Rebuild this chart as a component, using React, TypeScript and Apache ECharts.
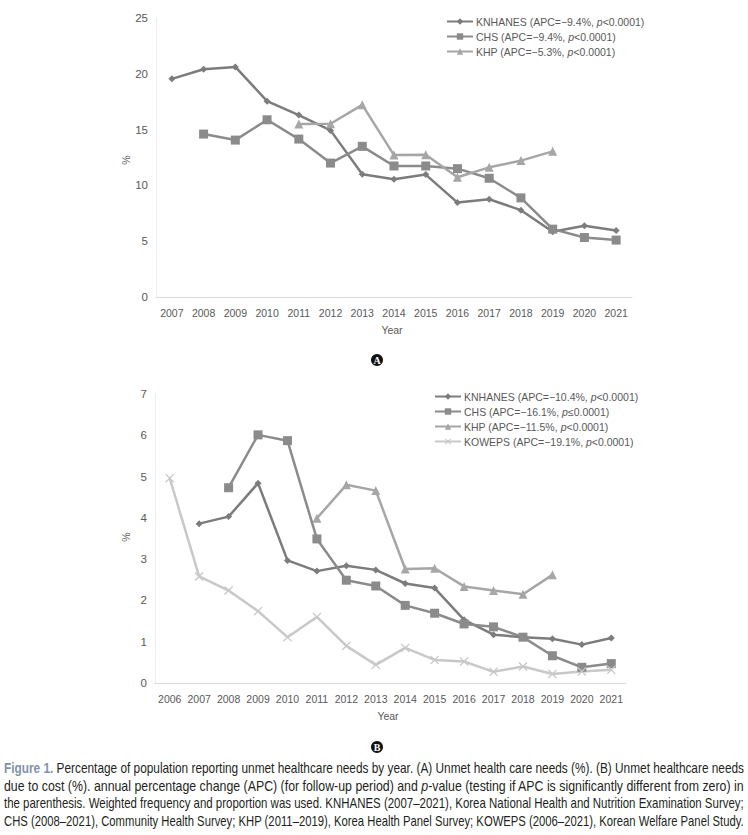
import React, { useEffect, useLayoutEffect, useRef, useState } from "react";
import * as echarts from "echarts";

const yearsA = ["2007","2008","2009","2010","2011","2012","2013","2014","2015","2016","2017","2018","2019","2020","2021"];
const knhanesA = [19.55,20.41,20.62,17.55,16.3,14.93,11.0,10.55,10.97,8.46,8.76,7.78,5.84,6.38,5.96];
const chsA = [null,14.6,14.06,15.88,14.15,12.0,13.5,11.74,11.74,11.5,10.64,8.88,6.08,5.33,5.1];
const khpA = [null,null,null,null,15.5,15.52,17.22,12.72,12.75,10.73,11.62,12.22,13.05,null,null];

const yearsB = ["2006","2007","2008","2009","2010","2011","2012","2013","2014","2015","2016","2017","2018","2019","2020","2021"];
const knhanesB = [null,3.86,4.03,4.84,2.97,2.71,2.84,2.74,2.41,2.3,1.53,1.17,1.11,1.07,0.93,1.09];
const chsB = [null,null,4.73,6.01,5.87,3.49,2.49,2.35,1.88,1.69,1.43,1.36,1.11,0.66,0.38,0.47];
const khpB = [null,null,null,null,null,3.99,4.8,4.66,2.76,2.78,2.34,2.24,2.15,2.62,null,null];
const kowepsB = [4.96,2.58,2.24,1.74,1.11,1.6,0.9,0.44,0.85,0.56,0.52,0.27,0.4,0.22,0.28,0.32];

const legendA = ["KNHANES (APC=−9.4%, p<0.0001)", "CHS (APC=−9.4%, p<0.0001)", "KHP (APC=−5.3%, p<0.0001)"];
const legendB = ["KNHANES (APC=−10.4%, p<0.0001)", "CHS (APC=−16.1%, p≤0.0001)", "KHP (APC=−11.5%, p<0.0001)", "KOWEPS (APC=−19.1%, p<0.0001)"];

const C_KN = "#7c7c7c";
const C_CHS = "#8b8b8b";
const C_KHP = "#a6a6a6";
const C_KOW = "#c8c8c8";
const FONT = "'Liberation Sans', Arial, sans-serif";
const XSYM = "path://M0,1L1,0L5,4L9,0L10,1L6,5L10,9L9,10L5,6L1,10L0,9L4,5Z";

function mkSeries(name: string, data: (number | null)[], color: string, symbol: string, size: number, xi: number) {
  return {
    type: "line",
    name,
    data,
    xAxisIndex: xi,
    yAxisIndex: xi,
    symbol,
    symbolSize: size,
    connectNulls: false,
    lineStyle: { color, width: 2.5 },
    itemStyle: { color },
  };
}

function FitLine({ children }: { children: React.ReactNode }) {
  const r = useRef<HTMLSpanElement>(null);
  const [s, setS] = useState(1);
  useLayoutEffect(() => {
    const w = r.current ? r.current.offsetWidth : 740;
    if (w > 0) setS(740 / w);
  }, []);
  return (
    <div style={{ height: 17.7, lineHeight: "17.7px", whiteSpace: "nowrap", overflow: "visible" }}>
      <span ref={r} style={{ display: "inline-block", transform: `scaleX(${s})`, transformOrigin: "0 0" }}>
        {children}
      </span>
    </div>
  );
}

export default function App() {
  const ref = useRef<HTMLDivElement>(null);
  useEffect(() => {
    const chart = echarts.init(ref.current!, null, { renderer: "svg" });
    const axisLabel = { color: "#595959", fontSize: 10.5, fontFamily: FONT };
    const xAxisCommon = {
      type: "category",
      boundaryGap: true,
      axisLine: { lineStyle: { color: "#d9d9d9" } },
      axisTick: { show: false },
      axisLabel: { ...axisLabel, margin: 10, interval: 0 },
      splitLine: { show: false },
    };
    const yAxisCommon = {
      type: "value",
      axisLine: { show: true, lineStyle: { color: "#eeeeee" } },
      axisTick: { show: false },
      splitLine: { show: false },
      axisLabel: { ...axisLabel, fontSize: 11.5, margin: 8 },
    };
    const legendCommon = {
      orient: "vertical",
      padding: 0,
      itemWidth: 26,
      itemHeight: 8,
      itemGap: 0,
      textStyle: {
        color: "#595959",
        fontSize: 10.5,
        lineHeight: 15,
        fontFamily: FONT,
        padding: [0, 0, 0, -2],
        rich: { i: { fontStyle: "italic", fontSize: 10.5, lineHeight: 15, color: "#595959", fontFamily: FONT } },
      },
      formatter: (n: string) => n.replace(", p", ", {i|p}"),
    };
    chart.setOption({
      animation: false,
      grid: [
        { left: 156, top: 18, width: 476, height: 279 },
        { left: 155, top: 394, width: 471, height: 289 },
      ],
      xAxis: [
        { ...xAxisCommon, gridIndex: 0, data: yearsA },
        { ...xAxisCommon, gridIndex: 1, data: yearsB },
      ],
      yAxis: [
        { ...yAxisCommon, gridIndex: 0, min: 0, max: 25, interval: 5 },
        { ...yAxisCommon, gridIndex: 1, min: 0, max: 7, interval: 1 },
      ],
      legend: [
        { ...legendCommon, left: 446, top: 14, data: legendA },
        { ...legendCommon, left: 434, top: 389, data: legendB },
      ],
      series: [
        mkSeries(legendA[0], knhanesA, C_KN, "diamond", 7, 0),
        mkSeries(legendA[1], chsA, C_CHS, "rect", 9, 0),
        mkSeries(legendA[2], khpA, C_KHP, "triangle", 9, 0),
        mkSeries(legendB[0], knhanesB, C_KN, "diamond", 7, 1),
        mkSeries(legendB[1], chsB, C_CHS, "rect", 9, 1),
        mkSeries(legendB[2], khpB, C_KHP, "triangle", 9, 1),
        mkSeries(legendB[3], kowepsB, C_KOW, XSYM, 9, 1),
      ],
      graphic: [
        { type: "text", x: 392, y: 330, style: { text: "Year", fill: "#595959", font: `10.5px ${FONT}`, align: "center", verticalAlign: "middle" } },
        { type: "text", x: 126, y: 160, rotation: Math.PI / 2, style: { text: "%", fill: "#595959", font: `10.5px ${FONT}`, align: "center", verticalAlign: "middle" } },
        { type: "text", x: 388, y: 716, style: { text: "Year", fill: "#595959", font: `10.5px ${FONT}`, align: "center", verticalAlign: "middle" } },
        { type: "text", x: 126, y: 537, rotation: Math.PI / 2, style: { text: "%", fill: "#595959", font: `10.5px ${FONT}`, align: "center", verticalAlign: "middle" } },
        { type: "circle", shape: { cx: 377, cy: 360, r: 6 }, style: { fill: "#111" } },
        { type: "text", x: 377, y: 360.5, style: { text: "A", fill: "#fff", font: `bold 10px 'Liberation Serif', serif`, align: "center", verticalAlign: "middle" } },
        { type: "circle", shape: { cx: 377, cy: 747, r: 6 }, style: { fill: "#111" } },
        { type: "text", x: 377, y: 747.5, style: { text: "B", fill: "#fff", font: `bold 10px 'Liberation Serif', serif`, align: "center", verticalAlign: "middle" } },
      ],
    });
    return () => chart.dispose();
  }, []);

  return (
    <div style={{ position: "absolute", left: 0, top: 0, width: 748, height: 835, background: "#fff", overflow: "hidden" }}>
      <div ref={ref} style={{ position: "absolute", left: 0, top: 0, width: 748, height: 835 }} />
      <div
        style={{
          position: "absolute",
          left: 4,
          top: 759,
          width: 740,
          fontFamily: FONT,
          fontSize: 15,
          color: "#231f20",
        }}
      >
        <FitLine>
          <span style={{ color: "#7f93a8", fontWeight: "bold" }}>Figure 1.</span> Percentage of population reporting unmet healthcare needs by year. (A) Unmet health care needs (%). (B) Unmet healthcare needs
        </FitLine>
        <FitLine>
          due to cost (%). annual percentage change (APC) (for follow-up period) and <i>p</i>-value (testing if APC is significantly different from zero) in
        </FitLine>
        <FitLine>
          the parenthesis. Weighted frequency and proportion was used. KNHANES (2007–2021), Korea National Health and Nutrition Examination Survey;
        </FitLine>
        <FitLine>
          CHS (2008–2021), Community Health Survey; KHP (2011–2019), Korea Health Panel Survey; KOWEPS (2006–2021), Korean Welfare Panel Study.
        </FitLine>
      </div>
    </div>
  );
}
